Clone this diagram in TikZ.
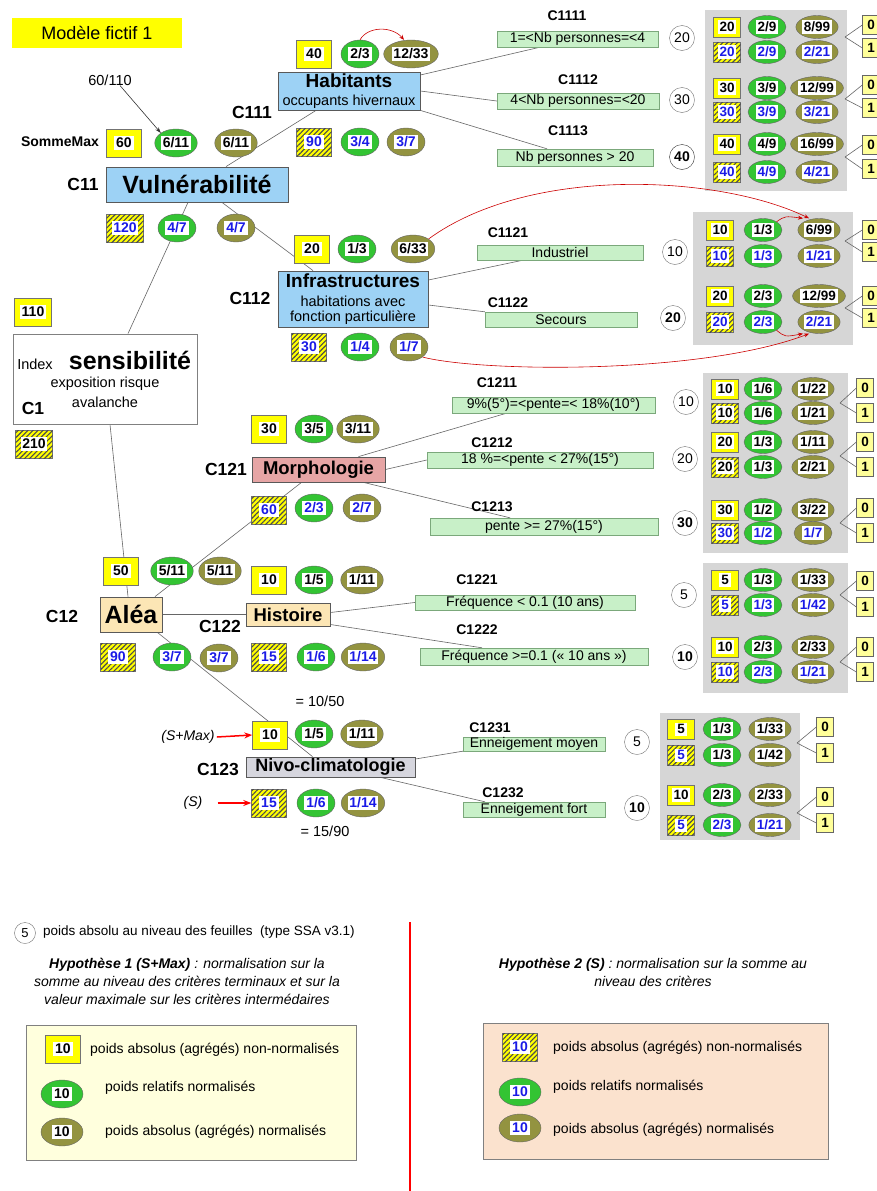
\documentclass[tikz,border=0pt]{standalone}
\usepackage{fontspec}
\setmainfont{Liberation Sans}
\usetikzlibrary{shapes.geometric,patterns.meta,arrows.meta}
\definecolor{yel}{HTML}{FFFF00}
\definecolor{grn}{HTML}{33C433}
\definecolor{olv}{HTML}{939340}
\definecolor{nb}{HTML}{1A1AE6}
\definecolor{cBlue}{HTML}{9DD2F5}
\definecolor{cPink}{HTML}{E6A5A5}
\definecolor{cTan}{HTML}{FCE6B5}
\definecolor{cNivo}{HTML}{D6D6DE}
\definecolor{cLeaf}{HTML}{C8F0C8}
\definecolor{cLeafB}{HTML}{7BA87B}
\definecolor{cLY}{HTML}{FFFF99}
\definecolor{cLeg1}{HTML}{FFFFDD}
\definecolor{cPeach}{HTML}{FBE2CE}
\definecolor{cPan}{HTML}{D6D6D6}
\pgfdeclarelayer{back}
\pgfdeclarelayer{bg}
\pgfsetlayers{back,bg,main}
\newcommand\Wb[1]{{\setlength{\fboxsep}{1.8pt}\colorbox{white}{#1}}}
\newcommand\bl[1]{\textcolor{nb}{#1}}
\newcommand\fsz[1]{\fontsize{#1}{#1}\selectfont}
\tikzset{
 tx/.style={font=\fsz{14.5}, inner sep=0},
 lab/.style={font=\fsz{17.5}\bfseries, inner sep=0},
 slab/.style={font=\fsz{14}\bfseries, inner sep=0},
 yb/.style={draw=black!55, fill=yel, minimum width=35, minimum height=28, inner sep=0, font=\fsz{14}\bfseries},
 hb/.style={yb, postaction={pattern={Lines[angle=45,distance=3.5pt,line width=1.1pt]}, pattern color=black!70}},
 ge/.style={ellipse, draw=black!60, fill=grn, minimum width=38, minimum height=28, inner sep=0, font=\fsz{14}\bfseries},
 oe/.style={ge, fill=olv},
 sm/.style={minimum height=23, font=\fsz{13.5}\bfseries},
 zo/.style={draw=black!60, fill=cLY, minimum width=17, minimum height=19, inner sep=0, font=\fsz{13.5}\bfseries},
 leaf/.style={draw=cLeafB, fill=cLeaf, inner sep=0, font=\fsz{14}},
 wc/.style={circle, draw=black!55, fill=white, minimum size=25, inner sep=0, font=\fsz{14}},
 mbox/.style={draw=black!65, line width=0.8, inner sep=0},
 con/.style={draw=black!60, line width=0.6},
 rarr/.style={draw=red!80!black, line width=0.6, -{Stealth[length=5,width=4]}},
 sarr/.style={draw=red, line width=1.5, -{Stealth[length=8,width=6]}},
}
\newcommand\PRow[6]{%
 \node[#3,sm,minimum width=27,minimum height=20] (#1a) at (\pxa,#2) {\Wb{#4}};
 \node[ge,sm] (#1b) at (\pxb,#2) {\Wb{#5}};
 \node[oe,sm] (#1c) at (\pxc,#2) {\Wb{#6}};}
\newcommand\Fk[6]{%
 \coordinate (#1f) at (#2,#3);
 \node[zo] (#1z) at (#4,#5) {0};
 \node[zo] (#1o) at (#4,#6) {1};
 \draw[con] (#1f) -- (#1z.west);
 \draw[con] (#1f) -- (#1o.west);}
\begin{document}
\begin{tikzpicture}[x=1pt,y=-1pt]
\useasboundingbox (0,0) rectangle (877,1191);
\begin{pgfonlayer}{back}
\fill[white] (0,0) rectangle (877,1191);
\fill[cPan] (705,10) rectangle (847,191);
\fill[cPan] (693,212) rectangle (853,345);
\fill[cPan] (703,373) rectangle (848,553);
\fill[cPan] (703,563) rectangle (848,693);
\fill[cPan] (660,713) rectangle (800,840);
\filldraw[fill=cLeg1, draw=black!50] (26,1025) rectangle (356,1160);
\filldraw[fill=cPeach, draw=black!50] (483,1023) rectangle (828,1159);
\end{pgfonlayer}

% title
\node[fill=yel, minimum width=170, minimum height=30, inner sep=0, font=\fsz{18}] (title) at (97,33) {Modèle fictif 1};

% ---- C1
\node[mbox, draw=black!50, fill=white, minimum width=184, minimum height=90] (idx) at (105,379) {};
\node[tx] (idxA) at (35,364) {Index};
\node[font=\fsz{25}\bfseries, inner sep=0] (idxB) at (130,360) {sensibilité};
\node[tx] (idxC) at (105,384) {exposition risque};
\node[tx] (idxD) at (105,402) {avalanche};
\node[lab] (lC1) at (33,408) {C1};
\node[yb, minimum width=37] (y1) at (33,312) {\Wb{110}};
\node[hb, minimum width=37] (h1) at (34,444) {\Wb{210}};

% ---- C11
\node[mbox, fill=cBlue, minimum width=182, minimum height=35, font=\fsz{25}\bfseries] (vul) at (197,184.5) {Vulnérabilité};
\node[lab] (lC11) at (83,184) {C11};
\node[font=\fsz{14}\bfseries, inner sep=0] (somme) at (60,142) {SommeMax};
\node[tx] (t60) at (110,80) {60/110};
\node[yb] (y11) at (124,143) {\Wb{60}};
\node[ge] (g11) at (176,143) {\Wb{6/11}};
\node[oe] (o11) at (236,143) {\Wb{6/11}};
\node[hb, minimum width=37] (h11) at (125,228) {\Wb{\bl{120}}};
\node[ge] (g11b) at (177,228) {\Wb{\bl{4/7}}};
\node[oe] (o11b) at (236,228) {\Wb{\bl{4/7}}};

% ---- C111
\node[mbox, fill=cBlue, minimum width=142, minimum height=38] (hab) at (349,91) {};
\node[font=\fsz{19}\bfseries, inner sep=0] (habA) at (349,81) {Habitants};
\node[font=\fsz{14.5}, inner sep=0] (habB) at (349,102) {occupants hivernaux};
\node[lab] (lC111) at (252,112) {C111};
\node[yb] (y111) at (314,54) {\Wb{40}};
\node[ge] (g111) at (360,54) {\Wb{2/3}};
\node[oe] (o111) at (411,54) {\Wb{12/33}};
\node[hb] (h111) at (314,142) {\Wb{\bl{90}}};
\node[ge] (g111b) at (360,142) {\Wb{\bl{3/4}}};
\node[oe] (o111b) at (406,142) {\Wb{\bl{3/7}}};

% ---- C112
\node[mbox, fill=cBlue, minimum width=150, minimum height=56] (inf) at (353,299) {};
\node[font=\fsz{19}\bfseries, inner sep=0] (infA) at (353,281) {Infrastructures};
\node[tx] (infB) at (353,301) {habitations avec};
\node[tx] (infC) at (353,318) {fonction particulière};
\node[lab] (lC112) at (250,298) {C112};
\node[yb] (y112) at (312,249) {\Wb{20}};
\node[ge] (g112) at (357,249) {\Wb{1/3}};
\node[oe] (o112) at (413,249) {\Wb{6/33}};
\node[hb] (h112) at (309,347) {\Wb{\bl{30}}};
\node[ge] (g112b) at (360,347) {\Wb{\bl{1/4}}};
\node[oe] (o112b) at (409,347) {\Wb{\bl{1/7}}};

% ---- C12
\node[mbox, fill=cTan, minimum width=62, minimum height=35, font=\fsz{25}\bfseries] (alea) at (131,614.5) {Aléa};
\node[lab] (lC12) at (62,616) {C12};
\node[yb] (y12) at (121,571) {\Wb{50}};
\node[ge] (g12) at (172,571) {\Wb{5/11}};
\node[oe] (o12) at (220,571) {\Wb{5/11}};
\node[hb] (h12) at (118,657) {\Wb{\bl{90}}};
\node[ge] (g12b) at (172,657) {\Wb{\bl{3/7}}};
\node[oe] (o12b) at (219,658) {\Wb{\bl{3/7}}};

% ---- C121
\node[mbox, fill=cPink, minimum width=133, minimum height=25, font=\fsz{18.5}\bfseries] (morph) at (318.5,469.5) {Morphologie};
\node[lab] (lC121) at (226,469) {C121};
\node[yb] (y121) at (269,429) {\Wb{30}};
\node[ge] (g121) at (314,429) {\Wb{3/5}};
\node[oe] (o121) at (358,429) {\Wb{3/11}};
\node[hb] (h121) at (269,510) {\Wb{\bl{60}}};
\node[ge] (g121b) at (314,508) {\Wb{\bl{2/3}}};
\node[oe] (o121b) at (362,508) {\Wb{\bl{2/7}}};

% ---- C122
\node[mbox, fill=cTan, minimum width=84, minimum height=23, font=\fsz{18.5}\bfseries] (hist) at (288,614.5) {Histoire};
\node[lab] (lC122) at (220,626) {C122};
\node[yb] (y122) at (269,580) {\Wb{10}};
\node[ge] (g122) at (314,580) {\Wb{1/5}};
\node[oe] (o122) at (362,580) {\Wb{1/11}};
\node[hb] (h122) at (269,657) {\Wb{\bl{15}}};
\node[ge] (g122b) at (316,657) {\Wb{\bl{1/6}}};
\node[oe] (o122b) at (363,657) {\Wb{\bl{1/14}}};

% ---- C123
\node[mbox, fill=cNivo, minimum width=169, minimum height=20, font=\fsz{18}\bfseries] (nivo) at (330.5,767) {Nivo-climatologie};
\node[lab] (lC123) at (218,769) {C123};
\node[tx] (t1050) at (320,701) {= 10/50};
\node[tx] (t1590) at (325,831) {= 15/90};
\node[font=\fsz{14}\itshape, inner sep=0] (smax) at (188,737) {(S+Max)};
\node[font=\fsz{14}\itshape, inner sep=0] (sS) at (193,803) {(S)};
\node[yb] (y123) at (270,735) {\Wb{10}};
\node[ge] (g123) at (314,734) {\Wb{1/5}};
\node[oe] (o123) at (362,734) {\Wb{1/11}};
\node[hb] (h123) at (269,803) {\Wb{\bl{15}}};
\node[ge] (g123b) at (316,803) {\Wb{\bl{1/6}}};
\node[oe] (o123b) at (363,803) {\Wb{\bl{1/14}}};

% ---- leaves
\node[slab] (lC1111) at (567,16) {C1111};
\node[leaf, minimum width=161, minimum height=16] (l1111) at (577.5,39) {1=<Nb personnes=<4};
\node[wc] (w1111) at (682,38) {20};
\node[slab] (lC1112) at (578,80) {C1112};
\node[leaf, minimum width=162, minimum height=16] (l1112) at (578,101) {4<Nb personnes=<20};
\node[wc] (w1112) at (682,100) {30};
\node[slab] (lC1113) at (568,131) {C1113};
\node[leaf, minimum width=156, minimum height=17] (l1113) at (575,157.5) {Nb personnes > 20};
\node[wc, draw=black!80, font=\fsz{14}\bfseries] (w1113) at (682,157) {40};

\node[slab] (lC1121) at (508,233) {C1121};
\node[leaf, minimum width=166, minimum height=15] (l1121) at (560,252.5) {Industriel};
\node[wc] (w1121) at (675,252) {10};
\node[slab] (lC1122) at (508,303) {C1122};
\node[leaf, minimum width=152, minimum height=15] (l1122) at (561,319.5) {Secours};
\node[wc, font=\fsz{14}\bfseries] (w1122) at (673,318) {20};

\node[slab] (lC1211) at (497,383) {C1211};
\node[leaf, minimum width=203, minimum height=16] (l1211) at (553.5,405) {9\%(5°)=<pente=< 18\%(10°)};
\node[wc] (w1211) at (686,402) {10};
\node[slab] (lC1212) at (492,443) {C1212};
\node[leaf, minimum width=226, minimum height=16] (l1212) at (540,460) {18 \%=<pente < 27\%(15°)};
\node[wc] (w1212) at (685,459) {20};
\node[slab] (lC1213) at (492,507) {C1213};
\node[leaf, minimum width=228, minimum height=17] (l1213) at (544,526.5) {pente >= 27\%(15°)};
\node[wc, font=\fsz{14}\bfseries] (w1213) at (685,523) {30};

\node[slab] (lC1221) at (477,580) {C1221};
\node[leaf, minimum width=220, minimum height=15] (l1221) at (525,602.5) {Fréquence < 0.1 (10 ans)};
\node[wc] (w1221) at (684,595) {5};
\node[slab] (lC1222) at (477,630) {C1222};
\node[leaf, minimum width=228, minimum height=17] (l1222) at (534,656.5) {Fréquence >=0.1 (« 10 ans »)};
\node[wc, font=\fsz{14}\bfseries] (w1222) at (685,657) {10};

\node[slab] (lC1231) at (490,728) {C1231};
\node[leaf, minimum width=142, minimum height=14] (l1231) at (534,744) {Enneigement moyen};
\node[wc] (w1231) at (637,742) {5};
\node[slab] (lC1232) at (503,793) {C1232};
\node[leaf, minimum width=142, minimum height=15] (l1232) at (534,809.5) {Enneigement fort};
\node[wc, font=\fsz{14}\bfseries] (w1232) at (637,808) {10};

% ---- panels
\def\pxa{727}\def\pxb{767}\def\pxc{817}
\PRow{p11}{27}{yb}{20}{2/9}{8/99}
\PRow{p12}{52}{hb}{\bl{20}}{\bl{2/9}}{\bl{2/21}}
\PRow{p13}{88}{yb}{30}{3/9}{12/99}
\PRow{p14}{112}{hb}{\bl{30}}{\bl{3/9}}{\bl{3/21}}
\PRow{p15}{144}{yb}{40}{4/9}{16/99}
\PRow{p16}{172}{hb}{\bl{40}}{\bl{4/9}}{\bl{4/21}}
\Fk{f11}{845}{37}{871}{25}{48}
\Fk{f12}{845}{99}{871}{85}{108}
\Fk{f13}{845}{157}{871}{145}{169}

\def\pxa{720}\def\pxb{763}\def\pxc{819}
\PRow{p21}{230}{yb}{10}{1/3}{6/99}
\PRow{p22}{256}{hb}{\bl{10}}{\bl{1/3}}{\bl{1/21}}
\PRow{p23}{296}{yb}{20}{2/3}{12/99}
\PRow{p24}{322}{hb}{\bl{20}}{\bl{2/3}}{\bl{2/21}}
\Fk{f21}{845}{241}{871}{230}{252}
\Fk{f22}{845}{308}{871}{296}{318}

\def\pxa{725}\def\pxb{763}\def\pxc{813}
\PRow{p31}{389}{yb}{10}{1/6}{1/22}
\PRow{p32}{413}{hb}{10}{1/6}{1/21}
\PRow{p33}{442}{yb}{20}{1/3}{1/11}
\PRow{p34}{467}{hb}{20}{1/3}{2/21}
\PRow{p35}{510}{yb}{30}{1/2}{3/22}
\PRow{p36}{533}{hb}{\bl{30}}{\bl{1/2}}{\bl{1/7}}
\Fk{f31}{840}{403}{865}{388}{413}
\Fk{f32}{840}{456}{865}{442}{467}
\Fk{f33}{840}{523}{865}{508}{533}

\PRow{p41}{580}{yb}{5}{1/3}{1/33}
\PRow{p42}{605}{hb}{\bl{5}}{\bl{1/3}}{\bl{1/42}}
\PRow{p43}{647}{yb}{10}{2/3}{2/33}
\PRow{p44}{672}{hb}{\bl{10}}{\bl{2/3}}{\bl{1/21}}
\Fk{f41}{840}{595}{865}{581}{607}
\Fk{f42}{840}{662}{865}{647}{672}

\def\pxa{681}\def\pxb{722}\def\pxc{770}
\PRow{p51}{729}{yb}{5}{1/3}{1/33}
\PRow{p52}{755}{hb}{\bl{5}}{1/3}{1/42}
\PRow{p53}{795}{yb}{10}{2/3}{2/33}
\PRow{p54}{825}{hb}{\bl{5}}{\bl{2/3}}{\bl{1/21}}
\Fk{f51}{797}{743}{825}{727}{753}
\Fk{f52}{797}{813}{825}{797}{823}

% ---- connectors
\begin{pgfonlayer}{bg}
\draw[con] ([xshift=29]vul.north) -- ([xshift=-33]hab.south);
\draw[con] ([xshift=25]vul.south) -- ([xshift=-40]inf.north);
\draw[con] ([xshift=-9]vul.south) -- ([xshift=23]idx.north);
\draw[con] ([xshift=5]idx.south) -- ([xshift=-3]alea.north);
\draw[con] ([yshift=16]hab.east) -- ([xshift=-37.5]l1111.south);
\draw[con] (hab.east) -- (l1112.west);
\draw[con] (hab.south east) -- ([xshift=-28]l1113.north);
\draw[con] ([yshift=19]inf.east) -- ([xshift=-37]l1121.south);
\draw[con] ([yshift=-6]inf.east) -- (l1122.north west);
\draw[con] ([xshift=24]alea.north) -- ([xshift=-17]morph.south);
\draw[con] (alea.east) -- (hist.west);
\draw[con] ([xshift=-5]alea.south east) -- ([xshift=-18]nivo.north);
\draw[con] ([xshift=40]morph.north) -- ([xshift=-47]l1211.south);
\draw[con] (morph.east) -- (l1212.west);
\draw[con] ([xshift=45]morph.south) -- ([xshift=-34]l1213.north);
\draw[con] ([yshift=2]hist.east) -- (l1221.west);
\draw[con] ([yshift=-10]hist.east) -- ([xshift=-52]l1222.north);
\draw[con] ([yshift=8]nivo.east) -- (l1231.south west);
\draw[con] ([xshift=50]nivo.south) -- ([xshift=-49]l1232.north);
\end{pgfonlayer}
\draw[con, draw=black!80, -{Stealth[length=6,width=4]}] ([xshift=10]t60.south) -- (g11.north west);

% ---- red arrows
\draw[rarr] (g111.north) .. controls (368,26) and (392,26) .. ([xshift=-7]o111.north);
\draw[rarr] (o112.north east) .. controls (530,165) and (720,175) .. ([xshift=-10]p21c.north);
\draw[rarr] (p21b.north east) .. controls (785,216) .. ([xshift=-16]p21c.north);
\draw[rarr] (o112b.south east) .. controls (480,372) and (700,375) .. ([xshift=-10]p24c.south);
\draw[rarr] (p24b.south east) .. controls (785,337) .. ([xshift=-16]p24c.south);
\draw[sarr] ([xshift=2]smax.east) -- (y123.west);
\draw[sarr] ([xshift=15]sS.east) -- (h123.west);

% ---- legend
\node[wc, minimum size=21, font=\fsz{13}] (lgc) at (25,933) {5};
\node[font=\fsz{13.5}, inner sep=0, anchor=west] (lgt) at (43,932) {poids absolu au niveau des feuilles\ \ (type SSA v3.1)};
\node[font=\fontsize{14}{18}\selectfont\itshape, align=center, inner sep=0] (hyp1) at (187,981) {\textbf{Hypothèse 1 (S+Max)} : normalisation sur la\\somme au niveau des critères terminaux et sur la\\valeur maximale sur les critères intermédaires};
\node[font=\fontsize{14}{18}\selectfont\itshape, align=center, inner sep=0] (hyp2) at (653,972) {\textbf{Hypothèse 2 (S)} : normalisation sur la somme au\\niveau des critères};
\draw[red, line width=1.2] (410,922) -- (410,1191);

\node[yb] (lg1a) at (63,1049) {\Wb{10}};
\node[font=\fsz{14}, inner sep=0, anchor=west] (lg1at) at (90,1050) {poids absolus (agrégés) non-normalisés};
\node[ge, minimum width=42] (lg1b) at (62,1094) {\Wb{10}};
\node[font=\fsz{14}, inner sep=0, anchor=west] (lg1bt) at (105,1088) {poids relatifs normalisés};
\node[oe, minimum width=42] (lg1c) at (62,1132) {\Wb{10}};
\node[font=\fsz{14}, inner sep=0, anchor=west] (lg1ct) at (105,1132) {poids absolus (agrégés) normalisés};

\node[hb] (lg2a) at (520,1047) {\Wb{\bl{10}}};
\node[font=\fsz{14}, inner sep=0, anchor=west] (lg2at) at (553,1048) {poids absolus (agrégés) non-normalisés};
\node[ge, minimum width=42] (lg2b) at (520,1092) {\Wb{\bl{10}}};
\node[font=\fsz{14}, inner sep=0, anchor=west] (lg2bt) at (553,1087) {poids relatifs normalisés};
\node[oe, minimum width=42] (lg2c) at (520,1128) {\Wb{\bl{10}}};
\node[font=\fsz{14}, inner sep=0, anchor=west] (lg2ct) at (553,1130) {poids absolus (agrégés) normalisés};
\end{tikzpicture}
\end{document}
